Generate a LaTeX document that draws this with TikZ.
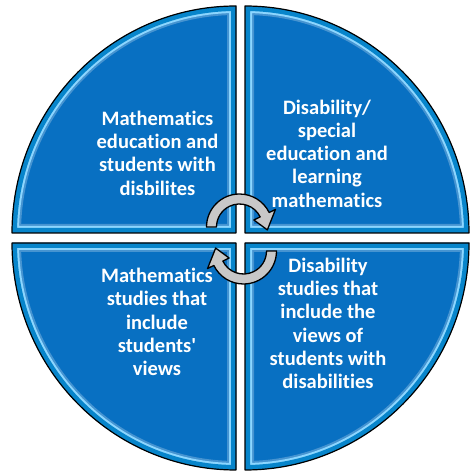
\documentclass[tikz,border=0pt]{standalone}
\usepackage{fontspec}
\defaultfontfeatures{}
\setmainfont{Carlito}[Ligatures=NoCommon]
\usepackage{tikz}
\usetikzlibrary{positioning}
\definecolor{qblue}{RGB}{8,112,194}
\definecolor{qlight}{RGB}{140,214,255}
\definecolor{arrowgray}{RGB}{200,200,200}
\newcommand{\straightq}{\XeTeXglyph\XeTeXcharglyph"0027\relax}
\tikzset{
	% quarter of the cycle
	qfill/.style={
		fill=qblue
	}, %
	qedge/.style={
		draw=black,
		line width=1.2pt,
		line join=round
	}, %
	% white bold label
	qlabel/.style={
		text=white,
		align=center,
		font=\bfseries\fontsize{20.5}{23.3}\selectfont
	}, %
	% grey round arrow
	cyc/.style={
		fill=arrowgray,
		draw=black,
		line width=1.3pt,
		line join=round
	}, %
	cycarrow/.pic={
		\filldraw [cyc] (180:33pt) arc [start angle=180, end angle=26, radius=33pt]
		-- (26:40pt) -- (-6:28pt) -- (26:16pt) -- (26:23pt)
		arc [start angle=26, end angle=180, radius=23pt] -- cycle;
	}
}

\begin{document}
\begin{tikzpicture}[x=1pt, y=1pt]
			\useasboundingbox (0,0) rectangle (469,471);
			
			%% four quarters: corner x, corner y, start angle
			\foreach \cx/\cy/\a in {236/238/90, 245/238/0, 236/228/180, 245/228/270} {
				\begin{scope}
					\path [clip] (\cx,\cy) -- ++(\a:224pt and 227pt)
					arc [start angle=\a, delta angle=90, x radius=224pt, y radius=227pt] -- cycle;
					\fill [qfill] (\cx,\cy) -- ++(\a:224pt and 227pt)
					arc [start angle=\a, delta angle=90, x radius=224pt, y radius=227pt] -- cycle;
					\draw [line width=18pt, qblue!75!white] (\cx,\cy) -- ++(\a:224pt and 227pt)
					arc [start angle=\a, delta angle=90, x radius=224pt, y radius=227pt] -- cycle;
					\draw [line width=14pt, qlight] (\cx,\cy) -- ++(\a:224pt and 227pt)
					arc [start angle=\a, delta angle=90, x radius=224pt, y radius=227pt] -- cycle;
					\draw [line width=10pt, qblue!85!cyan] (\cx,\cy) -- ++(\a:224pt and 227pt)
					arc [start angle=\a, delta angle=90, x radius=224pt, y radius=227pt] -- cycle;
				\end{scope}
				\draw [qedge] (\cx,\cy) -- ++(\a:224pt and 227pt)
				arc [start angle=\a, delta angle=90, x radius=224pt, y radius=227pt] -- cycle;
			}
			
			%% labels
			\node [qlabel] (mathed) at (157.5,318) {Mathematics\\education and\\students with\\disbilites};
			\node [qlabel] (special) at (327,317.5) {Disability/\\special\\education and\\learning\\mathematics};
			\node [qlabel] (mathstud) at (157,149) {Mathematics\\studies that\\include\\students\straightq\\views};
			\node [qlabel] (disstud) at (328,147.5) {Disability\\studies that\\include the\\views of\\students with\\disabilities};
			
			%% round arrows
			\pic at (239.5,244) {cycarrow};
			\pic [rotate=180] at (243.5,220) {cycarrow};
		\end{tikzpicture}
\end{document}
